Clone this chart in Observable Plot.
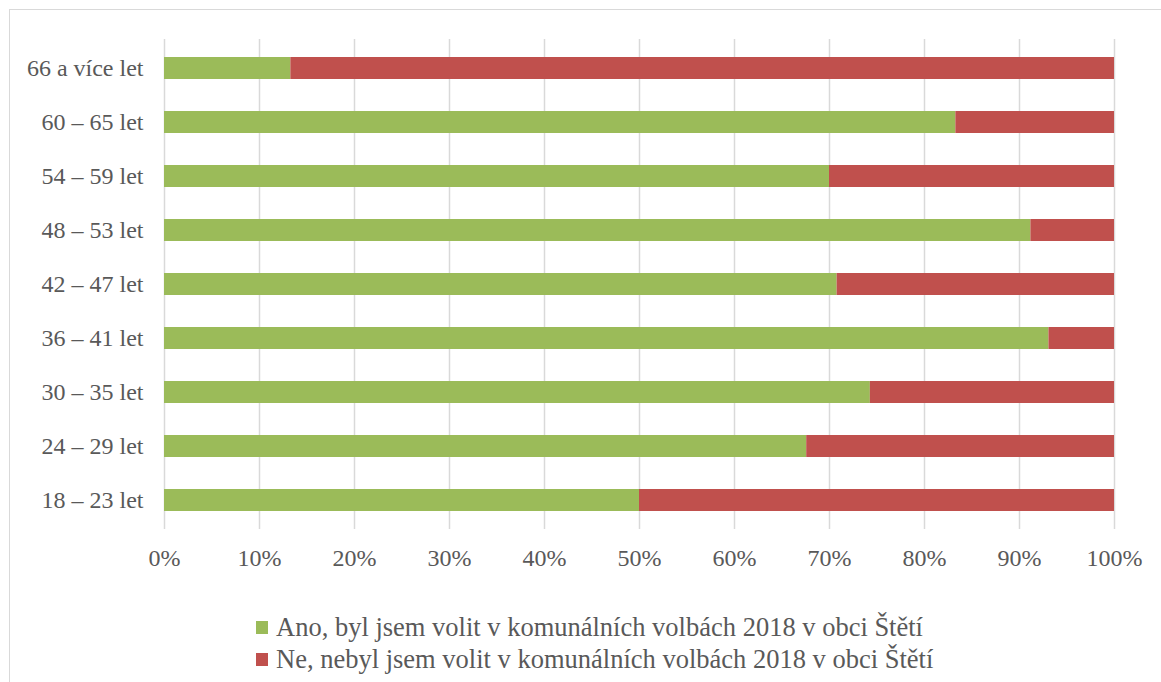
<!DOCTYPE html>
<html>
<head>
<meta charset="utf-8">
<script src="https://cdn.jsdelivr.net/npm/d3@7"></script>
<script src="https://cdn.jsdelivr.net/npm/@observablehq/plot@0.6"></script>
<style>
  html, body { margin: 0; padding: 0; background: #fff; overflow: hidden; width: 1161px; height: 682px; }
  #frame { position: absolute; left: 9px; top: 9px; width: 1200px; height: 720px; border: 1.5px solid #d9d9d9; box-sizing: border-box; }
  #chart { position: absolute; left: 0; top: 0; }
  #legend { position: absolute; left: 256px; top: 611px; font-family: "Liberation Serif", "Times New Roman", serif; font-size: 26.5px; color: #595959; line-height: 32px; }
  .item { display: flex; align-items: center; white-space: nowrap; }
  .sw { width: 12px; height: 13px; margin-right: 8px; display: inline-block; }
</style>
</head>
<body>
<div id="frame"></div>
<div id="chart"></div>
<div id="legend"></div>
<script>
const categories = ["66 a více let", "60 – 65 let", "54 – 59 let", "48 – 53 let", "42 – 47 let", "36 – 41 let", "30 – 35 let", "24 – 29 let", "18 – 23 let"];
const seriesNames = ["Ano, byl jsem volit v komunálních volbách 2018 v obci Štětí", "Ne, nebyl jsem volit v komunálních volbách 2018 v obci Štětí"];
const anoValues = [13.3, 83.3, 70.0, 91.2, 70.8, 93.1, 74.3, 67.6, 50.0];
const neValues = [86.7, 16.7, 30.0, 8.8, 29.2, 6.9, 25.7, 32.4, 50.0];
const seriesColors = ["#9BBB59", "#C0504D"];
const xTicks = [0, 10, 20, 30, 40, 50, 60, 70, 80, 90, 100];

const rows = [];
categories.forEach((c, i) => {
  rows.push({cat: c, series: seriesNames[0], value: anoValues[i]});
  rows.push({cat: c, series: seriesNames[1], value: neValues[i]});
});

const chart = Plot.plot({
  width: 1161,
  height: 580,
  marginLeft: 164,
  marginRight: 47,
  marginTop: 39,
  marginBottom: 51,
  style: {fontFamily: "'Liberation Serif', 'Times New Roman', serif", fontSize: "24px", color: "#595959", background: "transparent"},
  x: {domain: [0, 100], ticks: xTicks, tickFormat: d => d + "%", label: null, tickSize: 0, tickPadding: 19},
  y: {domain: categories, label: null, tickSize: 0, tickPadding: 21, padding: 0.6, paddingOuter: 0.3},
  color: {domain: seriesNames, range: seriesColors},
  marks: [
    Plot.gridX(xTicks, {stroke: "#d9d9d9", strokeOpacity: 1, strokeWidth: 1.5}),
    Plot.barX(rows, Plot.stackX({x: "value", y: "cat", fill: "series", order: seriesNames})),
    Plot.axisX({ticks: xTicks, tickFormat: d => d + "%", tickSize: 0, tickPadding: 19, label: null, fill: "#595959"}),
    Plot.axisY({tickSize: 0, tickPadding: 21, label: null, fill: "#595959"})
  ]
});
document.getElementById("chart").appendChild(chart);

const legend = document.getElementById("legend");
seriesNames.forEach((s, i) => {
  const div = document.createElement("div");
  div.className = "item";
  const sw = document.createElement("span");
  sw.className = "sw";
  sw.style.background = seriesColors[i];
  div.appendChild(sw);
  div.appendChild(document.createTextNode(s));
  legend.appendChild(div);
});
</script>
</body>
</html>
